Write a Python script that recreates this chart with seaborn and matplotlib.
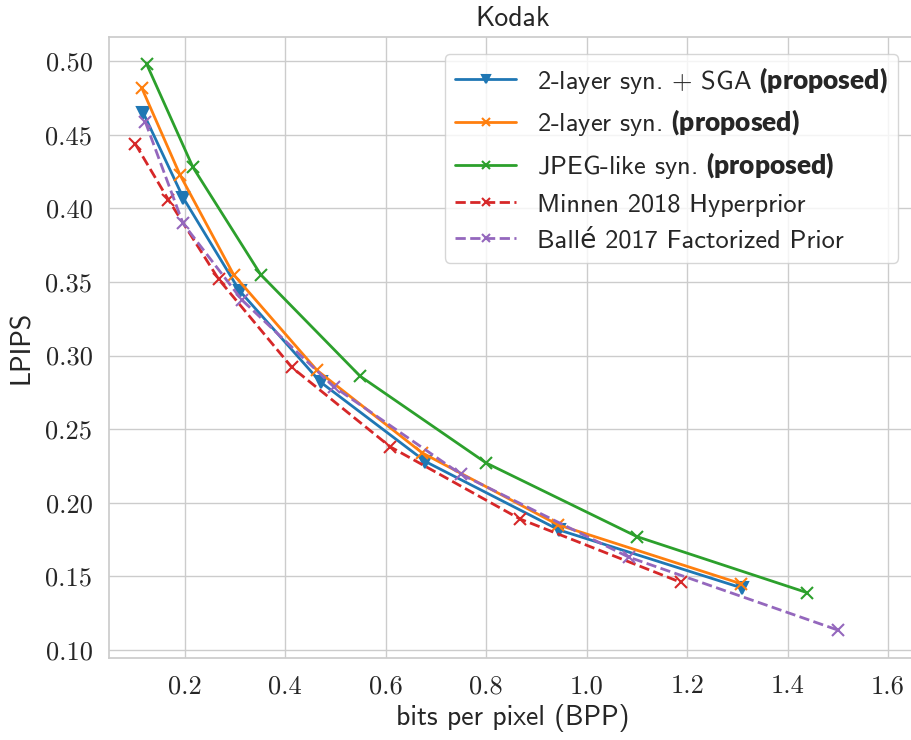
import matplotlib
matplotlib.use('Agg')
import matplotlib.pyplot as plt
import seaborn as sns

# values
bpp_sga = [0.117, 0.197, 0.309, 0.470, 0.679, 0.945, 1.310]
lpips_sga = [0.465, 0.407, 0.344, 0.282, 0.228, 0.1815, 0.142]

bpp_2layer = [0.114, 0.190, 0.297, 0.463, 0.672, 0.943, 1.307]
lpips_2layer = [0.482, 0.423, 0.355, 0.290, 0.234, 0.185, 0.145]

bpp_jpeg = [0.124, 0.216, 0.351, 0.549, 0.800, 1.100, 1.438]
lpips_jpeg = [0.498, 0.428, 0.355, 0.286, 0.227, 0.177, 0.139]

bpp_minnen = [0.101, 0.167, 0.267, 0.413, 0.609, 0.867, 1.187]
lpips_minnen = [0.444, 0.406, 0.352, 0.292, 0.238, 0.189, 0.146]

bpp_balle = [0.121, 0.196, 0.313, 0.496, 0.749, 1.084, 1.500]
lpips_balle = [0.459, 0.390, 0.338, 0.279, 0.2195, 0.163, 0.1135]

labels = [
    r'2-layer syn. + SGA $\mathbf{(proposed)}$',
    r'2-layer syn. $\mathbf{(proposed)}$',
    r'JPEG-like syn. $\mathbf{(proposed)}$',
    'Minnen 2018 Hyperprior',
    'Ballé 2017 Factorized Prior',
]
xticks = [0.2, 0.4, 0.6, 0.8, 1.0, 1.2, 1.4, 1.6]
yticks = [0.10, 0.15, 0.20, 0.25, 0.30, 0.35, 0.40, 0.45, 0.50]

sns.set_theme(style='whitegrid')
plt.rcParams['font.family'] = ['cmss10', 'DejaVu Sans']
plt.rcParams['mathtext.fontset'] = 'custom'
plt.rcParams['mathtext.bf'] = 'Lato:heavy'
plt.rcParams['axes.unicode_minus'] = False

pal = sns.color_palette('tab10')

fig = plt.figure(figsize=(9.11, 7.40), dpi=100)
ax = fig.add_axes([0.1197, 0.1108, 0.886, 0.8392])

series = [
    (bpp_sga, lpips_sga, 'v', '-'),
    (bpp_2layer, lpips_2layer, 'x', '-'),
    (bpp_jpeg, lpips_jpeg, 'x', '-'),
    (bpp_minnen, lpips_minnen, 'x', '--'),
    (bpp_balle, lpips_balle, 'x', '--'),
]
for i, (x, y, m, ls) in enumerate(series):
    sns.lineplot(x=x, y=y, ax=ax, color=pal[i], marker=m, linestyle=ls,
                 markersize=8, markeredgecolor=pal[i], markeredgewidth=1.5,
                 linewidth=2, label=labels[i], sort=False)

ax.set_xlim(0.049, 1.656)
ax.set_ylim(0.0945, 0.5165)
ax.set_xticks(xticks)
ax.set_yticks(yticks)
ax.set_xticklabels([f'{t:.1f}' for t in xticks], fontfamily='cmr10', fontsize=19)
ax.set_yticklabels([f'{t:.2f}' for t in yticks], fontfamily='cmr10', fontsize=19)
ax.tick_params(axis='both', pad=6)

ax.set_xlabel('bits per pixel (BPP)', fontsize=20)
ax.set_ylabel('LPIPS', fontsize=20, labelpad=8)
ax.set_title('Kodak', fontsize=20, pad=8)

ax.legend(loc='upper right', bbox_to_anchor=(0.986, 0.927), bbox_transform=fig.transFigure,
          borderaxespad=0, fontsize=19, handlelength=2.3, framealpha=0.8,
          labelspacing=0.45, markerscale=0.8)

fig.savefig('out.png', dpi=100)
